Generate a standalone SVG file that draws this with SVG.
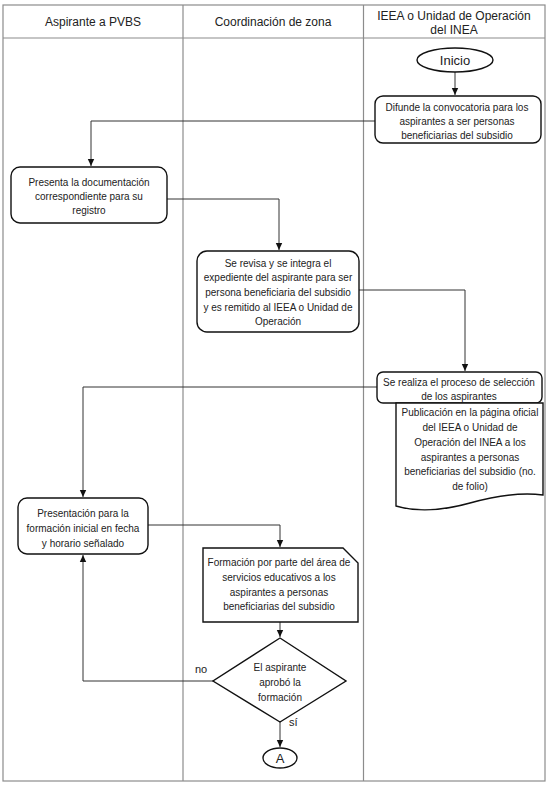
<svg xmlns="http://www.w3.org/2000/svg" width="549" height="786" viewBox="0 0 549 786">
<style>
.lane{fill:none;stroke:#8c8c8c;stroke-width:1.2}
.shape{fill:#fff;stroke:#111;stroke-width:1.4}
.conn{fill:none;stroke:#333;stroke-width:1;marker-end:url(#arr)}
.hd{font-family:"Liberation Sans",Arial,sans-serif;font-size:12px;fill:#222;text-anchor:middle}
.big{font-family:"Liberation Sans",Arial,sans-serif;font-size:13px;fill:#222;text-anchor:middle}
.t{font-family:"Liberation Sans",Arial,sans-serif;font-size:10px;fill:#222;text-anchor:middle}
.lbl{font-family:"Liberation Sans",Arial,sans-serif;font-size:11px;fill:#222}
</style>
<defs>
<marker id="arr" markerWidth="8" markerHeight="8" refX="7" refY="4" orient="auto" markerUnits="userSpaceOnUse">
<path d="M0,0.8 L7,4 L0,7.2 Z" fill="#111"/>
</marker>
</defs>
<rect width="549" height="786" fill="#fff"/>
<g id="lanes">
<rect class="lane" x="3" y="5" width="542" height="776"/>
<line class="lane" x1="3" y1="38" x2="545" y2="38"/>
<line class="lane" x1="183" y1="5" x2="183" y2="781"/>
<line class="lane" x1="363.5" y1="5" x2="363.5" y2="781"/>
<text class="hd" x="93" y="26">Aspirante a PVBS</text>
<text class="hd" x="273" y="26">Coordinación de zona</text>
<text class="hd" x="454" y="20">IEEA o Unidad de Operación</text>
<text class="hd" x="454" y="34">del INEA</text>
</g>
<g id="connectors">
<line class="conn" x1="455" y1="72" x2="455" y2="95"/>
<polyline class="conn" points="375,121 91,121 91,166"/>
<polyline class="conn" points="167,199 279,199 279,250"/>
<polyline class="conn" points="359,290 465,290 465,371"/>
<polyline class="conn" points="377,387 83,387 83,497"/>
<polyline class="conn" points="148,525 280,525 280,547"/>
<line class="conn" x1="280" y1="622" x2="280" y2="637"/>
<polyline class="conn" points="213,681 83,681 83,555"/>
<line class="conn" x1="280" y1="722" x2="280" y2="747"/>
<text class="lbl" x="195" y="673">no</text>
<text class="lbl" x="289" y="726">sí</text>
</g>
<g id="inicio">
<ellipse class="shape" cx="455" cy="60" rx="38" ry="12"/>
<text class="big" x="455" y="65">Inicio</text>
</g>
<g id="difunde">
<rect class="shape" x="375" y="96" width="166" height="47" rx="8"/>
<text class="t" x="457" y="111">Difunde la convocatoria para los</text>
<text class="t" x="457" y="125">aspirantes a ser personas</text>
<text class="t" x="457" y="139">beneficiarias del subsidio</text>
</g>
<g id="presenta">
<rect class="shape" x="11" y="167" width="156" height="56" rx="9"/>
<text class="t" x="89" y="186">Presenta la documentación</text>
<text class="t" x="89" y="200">correspondiente para su</text>
<text class="t" x="89" y="214">registro</text>
</g>
<g id="revisa">
<rect class="shape" x="197" y="251" width="162" height="81" rx="10"/>
<text class="t" x="278" y="267">Se revisa y se integra el</text>
<text class="t" x="278" y="281">expediente del aspirante para ser</text>
<text class="t" x="278" y="296">persona beneficiaria del subsidio</text>
<text class="t" x="278" y="311">y es remitido al IEEA o Unidad de</text>
<text class="t" x="278" y="325">Operación</text>
</g>
<g id="seleccion">
<rect class="shape" x="377" y="372" width="165" height="31" rx="6"/>
<text class="t" x="459" y="386">Se realiza el proceso de selección</text>
<text class="t" x="459" y="400">de los aspirantes</text>
</g>
<g id="publicacion">
<path class="shape" d="M396,403 H543 V495 C520,492 495,496 470,503 C445,510 420,513 396,506 Z"/>
<text class="t" x="470" y="416">Publicación en la página oficial</text>
<text class="t" x="470" y="431">del IEEA o Unidad de</text>
<text class="t" x="470" y="446">Operación del INEA a los</text>
<text class="t" x="470" y="461">aspirantes a personas</text>
<text class="t" x="470" y="475">beneficiarias del subsidio (no.</text>
<text class="t" x="470" y="490">de folio)</text>
</g>
<g id="presentacion">
<rect class="shape" x="18" y="498" width="130" height="56" rx="9"/>
<text class="t" x="83" y="517">Presentación para la</text>
<text class="t" x="83" y="532">formación inicial en fecha</text>
<text class="t" x="83" y="547">y horario señalado</text>
</g>
<g id="formacion">
<path class="shape" d="M203,548 H343 L358,563 V622 H203 Z"/>
<text class="t" x="279" y="566">Formación por parte del área de</text>
<text class="t" x="279" y="581">servicios educativos a los</text>
<text class="t" x="279" y="596">aspirantes a personas</text>
<text class="t" x="279" y="610">beneficiarias del subsidio</text>
</g>
<g id="decision">
<path class="shape" d="M280,638 L346,681 L280,722 L213,681 Z"/>
<text class="t" x="280" y="671">El aspirante</text>
<text class="t" x="280" y="686">aprobó la</text>
<text class="t" x="280" y="701">formación</text>
</g>
<g id="a">
<ellipse class="shape" cx="280" cy="758" rx="17" ry="10"/>
<text class="big" x="280" y="763">A</text>
</g>
</svg>
